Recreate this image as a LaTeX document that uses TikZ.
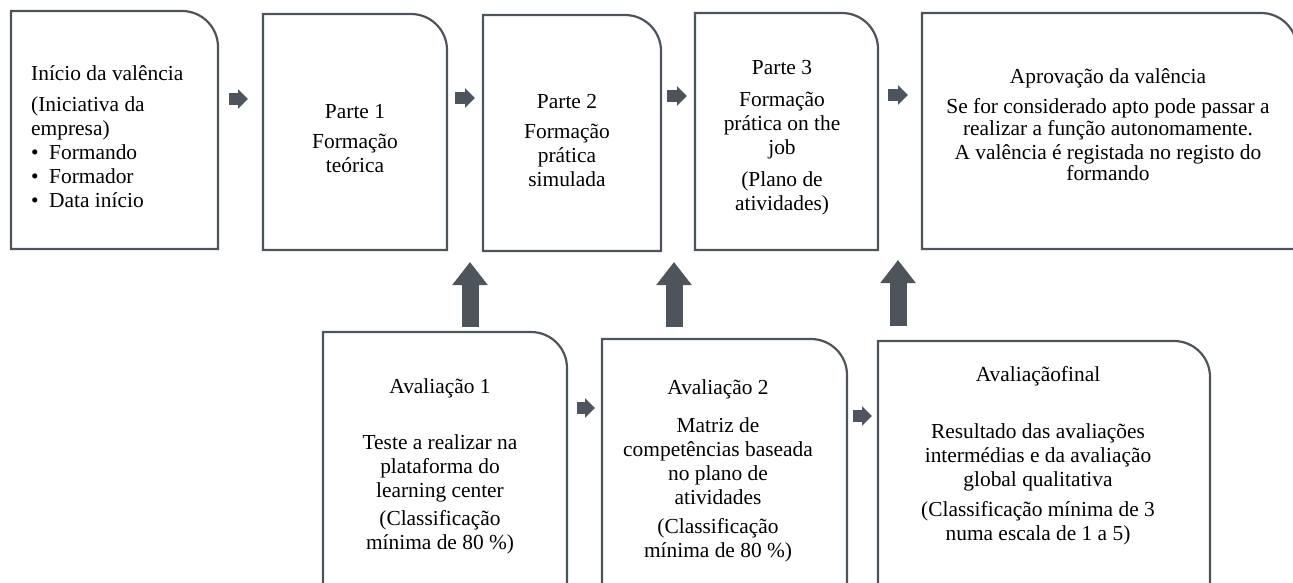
\documentclass[tikz,border=0pt]{standalone}
\usepackage{fontspec}
\setmainfont{Liberation Serif}
\usetikzlibrary{arrows.meta}
\definecolor{ink}{RGB}{78,84,92}
\newlength{\tabr}\setlength{\tabr}{36pt}
\newcommand{\tabbox}[1]{\draw[boxline] (#1.south west) -- (#1.north west) -- ([xshift=-\tabr]#1.north east) arc[start angle=90,end angle=0,radius=\tabr] -- (#1.south east) -- cycle;}
\begin{document}
\begin{tikzpicture}[x=1pt,y=-1pt,
  boxarea/.style={draw=none,rectangle,inner sep=0pt,outer sep=0pt},
  boxline/.style={draw=ink,line width=2.2pt,line join=miter},
  txt/.style={font=\fontsize{21.4}{24}\selectfont,align=center,inner sep=0pt,text=black},
  harrow/.style={draw=ink,line width=12pt,-{Triangle[width=19pt,length=10pt]}},
  varrow/.style={draw=ink,line width=17pt,-{Triangle[width=34pt,length=23pt]}}]
\useasboundingbox (0,0) rectangle (1293,583);
\clip (0,0) rectangle (1293,583);
% box areas
\node[boxarea,minimum width=207pt,minimum height=238pt] (b1) at (114.5,130) {};
\node[boxarea,minimum width=184pt,minimum height=236pt] (b2) at (355,132) {};
\node[boxarea,minimum width=178pt,minimum height=236pt] (b3) at (572,133) {};
\node[boxarea,minimum width=183pt,minimum height=237pt] (b4) at (786.5,131.5) {};
\node[boxarea,minimum width=375pt,minimum height=236pt] (b5) at (1109.5,131) {};
\node[boxarea,minimum width=244pt,minimum height=268pt] (e1) at (445,466) {};
\node[boxarea,minimum width=245pt,minimum height=261pt] (e2) at (724.5,469.5) {};
\node[boxarea,minimum width=332pt,minimum height=259pt] (e3) at (1044,470.5) {};
\tabbox{b1}
\tabbox{b2}
\tabbox{b3}
\tabbox{b4}
\tabbox{b5}
\tabbox{e1}
\tabbox{e2}
\tabbox{e3}
% texts
\node[txt,align=left,anchor=west] (t1) at (31,137) {Início da valência\\[7pt](Iniciativa da\\empresa)\\\makebox[18pt][l]{\textbullet}Formando\\\makebox[18pt][l]{\textbullet}Formador\\\makebox[18pt][l]{\textbullet}Data início};
\node[txt] (t2) at (355,138.5) {Parte 1\\[6pt]Formação\\teórica};
\node[txt] (t3) at (567,140.5) {Parte 2\\[6pt]Formação\\prática\\simulada};
\node[txt] (t4) at (782,138) {Parte 3\\[8pt]Formação\\prática on the\\job\\[8pt](Plano de\\atividades)};
\node[txt,font=\fontsize{21.4}{21.5}\selectfont] (t5) at (1108,125) {Aprovação da valência\\[8.5pt]Se for considerado apto pode passar a\\realizar a função autonomamente.\\[2.5pt]A valência é registada no registo do\\formando};
\node[txt] (t6) at (440,466) {Avaliação 1\\[32pt]Teste a realizar na\\plataforma do\\learning center\\[4pt](Classificação\\mínima de 80 \%)};
\node[txt] (t7) at (718,471) {Avaliação 2\\[14pt]Matriz de\\competências baseada\\no plano de\\atividades\\[5pt](Classificação\\mínima de 80 \%)};
\node[txt] (t8) at (1038,456) {Avaliaçãofinal\\[33pt]Resultado das avaliações\\intermédias e da avaliação\\global qualitativa\\[6pt](Classificação mínima de 3\\numa escala de 1 a 5)};
% arrow coordinates
\coordinate (h1s) at (229,99);  \coordinate (h1e) at (248,99);
\coordinate (h2s) at (455,98);  \coordinate (h2e) at (475,98);
\coordinate (h3s) at (667,96);  \coordinate (h3e) at (687,96);
\coordinate (h4s) at (888,95);  \coordinate (h4e) at (908,95);
\coordinate (h5s) at (577,408); \coordinate (h5e) at (595,408);
\coordinate (h6s) at (853,416); \coordinate (h6e) at (872,416);
\coordinate (v1s) at (470,327); \coordinate (v1e) at (470,262);
\coordinate (v2s) at (674,327); \coordinate (v2e) at (674,262);
\coordinate (v3s) at (898,326); \coordinate (v3e) at (898,260);
\draw[harrow] (h1s) -- (h1e);
\draw[harrow] (h2s) -- (h2e);
\draw[harrow] (h3s) -- (h3e);
\draw[harrow] (h4s) -- (h4e);
\draw[harrow] (h5s) -- (h5e);
\draw[harrow] (h6s) -- (h6e);
\draw[varrow] (v1s) -- (v1e);
\draw[varrow] (v2s) -- (v2e);
\draw[varrow] (v3s) -- (v3e);
\end{tikzpicture}
\end{document}
